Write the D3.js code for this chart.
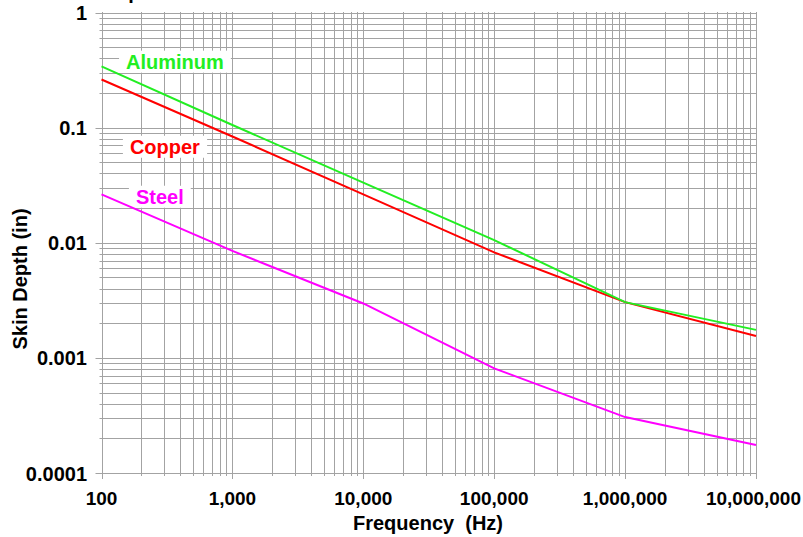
<!DOCTYPE html>
<html><head><meta charset="utf-8">
<script src="https://cdn.jsdelivr.net/npm/d3@7/dist/d3.min.js"></script>
<style>
body{margin:0;background:#fff;}
text{font-family:"Liberation Sans",Arial,sans-serif;font-weight:bold;}
</style></head>
<body><svg id="c" width="803" height="537"></svg>
<script>
const frequencies = [100, 1000, 10000, 100000, 1000000, 10000000];
const aluminum = [0.340, 0.1054, 0.0333, 0.01055, 0.00305, 0.00175];
const copper   = [0.262, 0.0837, 0.0263, 0.00825, 0.00305, 0.00155];
const steel    = [0.0263, 0.0085, 0.00297, 0.00081, 0.000306, 0.000175];
const seriesNames = ["Aluminum", "Copper", "Steel"];
const seriesColors = ["#22ee22", "#ff0000", "#ff00ff"];
const xTickLabels = ["100", "1,000", "10,000", "100,000", "1,000,000", "10,000,000"];
const yTickValues = [1, 0.1, 0.01, 0.001, 0.0001];
const yTickLabels = ["1", "0.1", "0.01", "0.001", "0.0001"];
const labelFreqs = [364, 305, 279];
const labelDepths = [0.374, 0.0682, 0.0251];

const svg = d3.select("#c");
const W = 803;
const L = 101.5, R = 756, T = 12.5, B = 473;
const x = d3.scaleLog().domain([100, 1e7]).range([L, R]);
const y = d3.scaleLog().domain([1e-4, 1]).range([B, T]);
const gridColor = "#a3a3a3";
const FS = 20, TFS = 19;

// partially visible title (cut off at top edge, as in the reference)
svg.append("text").attr("x", 55).attr("y", -1).attr("font-size", FS).attr("fill", "#000").text("Skin Depth");

const xGrid = [];
for (let e = 2; e <= 6; e++) for (let m = 1; m <= 9; m++) xGrid.push(m * Math.pow(10, e));
xGrid.push(1e7);
const yGrid = [];
for (let e = -4; e <= -1; e++) for (let m = 1; m <= 9; m++) yGrid.push(m * Math.pow(10, e));
yGrid.push(1);

const isMajor = v => Math.abs(Math.log10(v) - Math.round(Math.log10(v))) < 1e-9;

const g = svg.append("g");
g.selectAll("line.vx").data(xGrid).join("line")
  .attr("x1", d => Math.round(x(d)) + 0.5).attr("x2", d => Math.round(x(d)) + 0.5)
  .attr("y1", T - 0.5).attr("y2", d => isMajor(d) ? B + 6 : B + 3)
  .attr("stroke", gridColor).attr("stroke-width", 1);
g.selectAll("line.hy").data(yGrid).join("line")
  .attr("y1", d => Math.round(y(d)) + 0.5).attr("y2", d => Math.round(y(d)) + 0.5)
  .attr("x1", d => isMajor(d) ? L - 6 : L - 2).attr("x2", R + 0.5)
  .attr("stroke", gridColor).attr("stroke-width", 1);

// tick labels
svg.selectAll("text.xt").data(frequencies).join("text")
  .attr("x", d => x(d)).attr("y", 505).attr("text-anchor", "middle")
  .attr("font-size", TFS).attr("fill", "#000").text((d, i) => xTickLabels[i])
  .each(function() {
    const bb = this.getBBox();
    if (bb.x + bb.width > W - 2) {
      d3.select(this).attr("x", +d3.select(this).attr("x") - (bb.x + bb.width - (W - 2)));
    }
  });
svg.selectAll("text.yt").data(yTickValues).join("text")
  .attr("x", 87).attr("y", d => y(d) + 7.5).attr("text-anchor", "end")
  .attr("font-size", FS).attr("fill", "#000").text((d, i) => yTickLabels[i]);

svg.append("text").attr("x", 428).attr("y", 530).attr("text-anchor", "middle")
  .attr("font-size", FS).attr("fill", "#000").style("white-space", "pre").text("Frequency  (Hz)");
svg.append("text").attr("transform", "translate(27,279) rotate(-90)").attr("text-anchor", "middle")
  .attr("font-size", FS).attr("fill", "#000").text("Skin Depth (in)");

// series
const allSeries = [aluminum, copper, steel];
const line = d3.line().x((d, i) => x(frequencies[i])).y(d => y(d));

// labels with white background (drawn under the lines)
seriesNames.forEach((name, k) => {
  const t = svg.append("text").attr("x", x(labelFreqs[k])).attr("y", y(labelDepths[k]))
    .attr("text-anchor", "middle").attr("dominant-baseline", "central")
    .attr("font-size", FS).attr("fill", seriesColors[k]).text(name);
  const bb = t.node().getBBox();
  svg.insert("rect", () => t.node())
    .attr("x", bb.x - 7).attr("y", bb.y).attr("width", bb.width + 14).attr("height", bb.height)
    .attr("fill", "#fff");
});

[2, 1, 0].forEach(k => {
  svg.append("path").datum(allSeries[k]).attr("d", line)
    .attr("fill", "none").attr("stroke", seriesColors[k]).attr("stroke-width", 2);
});
</script></body></html>
